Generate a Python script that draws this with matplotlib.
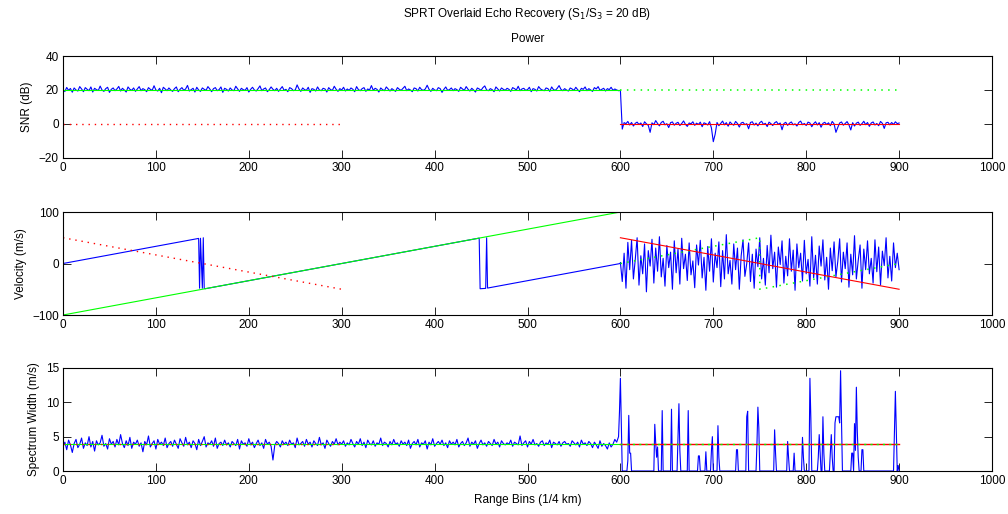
import matplotlib
matplotlib.use("Agg")
import matplotlib.pyplot as plt
import numpy as np

# ---------------- data ----------------
# Panel 1: SNR (dB)
s1_bins = [0, 600]
s1_snr = [20, 20]
s1_ghost_bins = [600, 900]
s1_ghost_snr = [20, 20]
s3_ghost_bins = [0, 300]
s3_ghost_snr = [0, 0]
s3_bins = [600, 900]
s3_snr = [0, 0]

snr_est_a = [  # bins 0..598 step 2
    20.3, 19.1, 21.5, 19.8, 20.9, 18.7, 21.2, 20.0, 19.4, 22.0, 20.6, 19.0, 21.4, 20.4, 19.6, 21.8, 18.8, 21.0, 20.2, 19.7, 22.3, 20.0, 19.2, 20.8, 21.6, 18.6, 20.4, 21.2, 19.6, 20.6,
    22.1, 19.4, 21.0, 20.0, 18.8, 21.8, 20.4, 19.8, 21.2, 19.2, 20.6, 22.0, 19.6, 20.8, 20.2, 19.0, 21.4, 20.4, 19.8, 22.5, 20.0, 19.4, 21.0, 18.4, 21.6, 20.6, 19.6, 21.2, 20.0, 19.2,
    20.8, 21.8, 19.0, 20.4, 21.4, 19.8, 20.6, 22.7, 19.4, 20.2, 21.0, 18.8, 21.6, 20.0, 19.2, 21.2, 20.4, 19.8, 22.0, 20.6, 19.0, 20.8, 21.4, 19.6, 20.2, 21.8, 18.6, 21.0, 20.4, 19.4,
    21.2, 20.0, 19.6, 22.2, 20.6, 19.2, 21.0, 20.2, 19.8, 21.4, 18.8, 20.4, 21.6, 20.0, 19.4, 20.8, 22.4, 19.6, 20.6, 21.2, 19.0, 20.2, 21.8, 20.4, 19.6, 21.0, 19.2, 20.6, 22.0, 19.8,
    20.4, 19.0, 21.4, 20.8, 19.6, 20.0, 23.0, 20.6, 19.2, 21.2, 20.2, 19.8, 21.6, 18.6, 20.8, 20.4, 19.4, 21.8, 20.0, 19.6, 21.0, 20.6, 18.8, 21.4, 20.2, 19.8, 22.2, 20.4, 19.2, 20.8,
    20.0, 21.6, 19.4, 20.6, 19.8, 21.2, 20.4, 19.0, 22.0, 20.2, 19.6, 20.8, 21.4, 19.2, 20.6, 20.0, 22.6, 19.8, 21.0, 20.4, 18.8, 21.2, 20.2, 19.6, 21.8, 20.6, 19.4, 20.8, 20.0, 19.2,
    21.4, 20.4, 19.8, 21.0, 22.2, 19.6, 20.6, 20.0, 19.0, 21.2, 20.8, 19.4, 21.6, 20.2, 19.8, 20.6, 22.8, 20.4, 19.2, 21.0, 20.0, 19.6, 21.4, 20.8, 18.6, 20.4, 21.8, 19.8, 20.2, 21.2,
    19.6, 20.8, 20.2, 19.2, 21.6, 20.6, 19.8, 22.0, 20.4, 19.4, 21.0, 20.0, 18.8, 21.2, 20.6, 19.8, 21.4, 22.4, 20.0, 19.6, 20.8, 20.2, 19.0, 21.8, 20.6, 19.4, 21.2, 20.4, 19.8, 21.0,
    20.4, 19.2, 21.4, 20.8, 20.0, 22.2, 19.6, 20.6, 21.0, 19.8, 20.2, 21.6, 19.0, 20.8, 20.4, 19.4, 22.0, 20.6, 20.0, 19.6, 21.2, 20.8, 19.2, 21.8, 20.2, 19.8, 21.0, 22.6, 20.4, 19.6,
    20.8, 20.0, 19.4, 21.2, 20.6, 19.8, 21.6, 20.2, 19.0, 21.0, 20.4, 21.8, 19.6, 20.8, 20.0, 19.2, 21.4, 20.6, 22.0, 19.8, 20.4, 21.0, 19.4, 20.8, 20.2, 21.6, 19.8, 20.6, 20.0, 19.6,
]
snr_est_b = [  # bins 600..900 step 2
    19.8,
    -3.0, 0.8, 0.2, 1.5, -0.6, 0.9, -1.2, 0.4, 1.1, -0.3, 0.6, -1.5, 1.3, 0.1, -0.8,
    -4.9, 0.7, -0.4, 2.0, 0.3, -1.1, 0.9, 1.6, -0.5, 0.2, -2.1, 0.8, 1.2, -0.7, 0.4,
    1.0, -0.9, 0.3, 1.8, -0.2, -1.4, 0.6, 0.1, 1.3, -0.8, 0.5, -0.3, 1.1, -1.6, 0.7,
    0.2, -0.6, 1.4, -2.4, -10.4, -6.0, 0.9, -1.0, 0.4, 1.7, -0.5, 0.8, -1.3, 1.2, 0.0,
    -0.7, 1.5, 0.3, -1.8, 0.6, 1.0, -0.4, 0.2, -2.8, 0.9, 1.3, -0.6, 0.5, -1.1, 0.8,
    1.6, -0.3, 0.4, -1.5, 1.1, 0.2, -0.9, 0.7, 1.4, -0.2, 0.6, -3.4, 0.3, 1.0, -0.8,
    0.5, 1.2, -0.5, 0.1, -1.2, 0.9, 1.7, -0.4, 0.3, -0.9, 1.1, 0.6, -1.6, 0.2, 1.3,
    -0.6, 0.8, -1.9, 0.4, 1.0, -0.3, 0.7, -1.0, 1.5, 0.1, -4.9, -2.0, 0.6, 1.2, -0.7,
    0.3, 1.4, -0.5, -3.5, 0.8, -1.2, 0.5, 1.1, -0.8, 0.2, 1.6, -0.4, 0.9, -1.4, 0.6,
    1.2, -0.6, 0.3, -1.0, 1.5, 0.4, -2.6, 0.7, 1.0, -0.5, 0.9, -0.3, 1.3, 0.2, 0.6,
]

# Panel 2: velocity (m/s)
v1_bins = [0, 600]
v1_vel = [-100, 100]
v1_ghost_bins = [600, 750, 750, 900]
v1_ghost_vel = [0, 50, -50, 0]
v3_ghost_bins = [0, 300]
v3_ghost_vel = [50, -50]
v3_bins = [600, 900]
v3_vel = [50, -50]

vel_est_a_bins = [0, 146, 147, 148, 149, 150, 151, 152, 153, 448, 449, 455, 456, 457, 600]
vel_est_a = [0, 48.7, -48, 49, 0, -48, 50, -48, -49, 49.3, -49, -48.3, 50, -47.7, 0]
vel_est_b = [  # bins 600..900 step 2
    2,
    -35, 20, -48, 41, -12, 45, -30, 8, 50, -42, 15, -20, 38, -55, 25,
    -5, 47, -38, 30, -15, 52, -26, 10, -44, 35, -8, 22, -50, 44, -18,
    28, -40, 49, -10, 18, -33, 40, -22, 5, -47, 36, -3, 45, -28, 12,
    -52, 33, -15, 48, -36, 20, -8, 42, -45, 25, -30, 56, -20, 6, -40,
    38, -12, 30, -50, 15, 46, -25, 0, 40, -35, 18, -48, 28, -6, 50,
    -30, 10, -42, 35, -18, 55, -10, 22, -46, 32, -2, 44, -38, 14, -24,
    48, -15, 26, -52, 38, -8, 20, -34, 45, -20, 8, -44, 52, -28, 16,
    -40, 34, -5, 46, -32, 12, -50, 30, -14, 42, -26, 4, 48, -36, 22,
    -10, 40, -46, 18, -22, 54, -30, 6, 36, -48, 28, -12, 44, -20, 10,
    -38, 46, -16, 32, -42, 24, -4, 50, -28, 14, -34, 40, -8, 20, -12,
]

# Panel 3: spectrum width (m/s)
w1_bins = [0, 600]
w1_sw = [4, 4]
w1_ghost_bins = [600, 900]
w1_ghost_sw = [4, 4]
w3_ghost_bins = [0, 300]
w3_ghost_sw = [4, 4]
w3_bins = [600, 900]
w3_sw = [4, 4]

sw_est_a = [  # bins 0..598 step 2
    3.6, 4.2, 3.1, 4.5, 3.8, 2.7, 4.0, 4.6, 3.4, 3.9, 4.8, 3.3, 4.1, 3.7, 5.0, 3.5, 4.3, 2.9, 4.4, 3.8, 4.1, 5.2, 3.6, 4.0, 3.2, 4.7, 3.9, 4.3, 3.5, 4.6,
    3.8, 5.3, 4.0, 3.4, 4.4, 3.7, 4.9, 3.3, 4.2, 3.9, 4.5, 3.6, 4.1, 2.8, 4.3, 3.8, 5.1, 3.5, 4.0, 4.4, 3.2, 4.6, 3.9, 4.2, 3.7, 4.8, 3.4, 4.0, 4.3, 3.6,
    4.5, 3.9, 3.3, 4.7, 4.1, 3.6, 4.9, 3.8, 4.2, 3.4, 4.4, 4.0, 3.1, 4.6, 3.7, 4.3, 5.0, 3.5, 4.1, 3.9, 4.4, 3.6, 4.8, 3.3, 4.0, 4.2, 3.7, 4.5, 3.8, 4.1,
    3.5, 4.3, 4.0, 3.7, 4.6, 3.2, 4.4, 3.9, 4.1, 3.6, 4.7, 3.8, 4.2, 3.4, 4.0, 4.5, 3.7, 4.1, 3.3, 4.6, 3.9, 4.2, 3.6, 1.6, 3.8, 4.3, 4.0, 3.5, 4.4, 3.9,
    4.2, 3.7, 4.5, 3.9, 4.1, 3.4, 4.8, 3.8, 4.0, 4.3, 3.6, 4.6, 3.9, 4.2, 3.5, 4.4, 4.0, 3.7, 4.9, 3.8, 4.1, 3.3, 4.5, 4.0, 3.6, 4.3, 3.9, 4.7, 3.8, 4.2,
    3.9, 4.4, 3.6, 4.1, 3.8, 4.6, 4.0, 3.5, 4.3, 3.9, 4.7, 3.7, 4.2, 3.4, 4.5, 4.0, 3.8, 4.4, 3.6, 4.1, 3.9, 4.8, 3.7, 4.2, 4.0, 3.5, 4.3, 3.8, 4.6, 3.9,
    4.1, 3.6, 4.4, 3.9, 4.2, 3.7, 4.5, 3.3, 4.0, 4.3, 3.8, 4.6, 3.5, 4.1, 3.9, 4.4, 3.2, 4.2, 3.8, 4.7, 3.6, 4.0, 4.3, 3.9, 4.5, 3.7, 4.1, 3.4, 4.4, 3.9,
    4.2, 3.8, 4.6, 3.5, 4.0, 4.3, 3.7, 4.1, 4.8, 3.6, 4.2, 3.9, 4.4, 3.3, 4.0, 4.5, 3.8, 4.1, 3.6, 4.3, 4.0, 3.7, 4.6, 3.9, 4.2, 3.5, 4.4, 4.0, 3.8, 4.1,
    3.9, 4.5, 3.6, 4.2, 4.0, 3.8, 5.1, 3.7, 4.1, 4.4, 3.5, 4.3, 3.9, 4.6, 3.8, 4.0, 3.6, 4.2, 4.4, 3.7, 4.1, 3.9, 4.5, 3.4, 4.2, 4.0, 3.8, 4.3, 3.6, 4.1,
    4.3, 3.9, 4.0, 3.6, 4.4, 4.1, 3.8, 4.2, 3.5, 4.5, 3.9, 4.1, 3.7, 4.3, 4.0, 3.4, 4.2, 3.8, 3.3, 4.4, 3.6, 4.0, 3.7, 3.2, 4.1, 3.5, 3.9, 4.6, 4.2, 5.0,
]
sw_spike_bins = [599, 600, 601, 608, 609, 610, 611, 637, 638, 639, 640, 645, 655, 662, 663, 664,
                 673, 684, 685, 692, 698, 699, 705, 706, 725, 726, 736, 737, 747, 748, 749,
                 766, 767, 780, 781, 787, 796, 797, 804, 805, 813, 814, 815, 818, 819, 826, 827,
                 828, 831, 832, 833, 834, 835, 836, 837, 838, 849, 850, 852, 853, 854, 855, 856,
                 860, 861, 895, 896, 897, 899]
sw_spike_vals = [8.6, 13.5, 6.4, 1.5, 8.1, 2.6, 2.6, 6.8, 4.1, 2.0, 3.5, 8.8, 9.0, 5.0, 9.8, 3.0,
                 8.8, 2.2, 2.2, 2.8, 3.0, 5.0, 6.6, 2.0, 3.1, 3.1, 7.9, 8.7, 4.0, 9.3, 6.3,
                 6.0, 2.6, 4.3, 2.0, 2.6, 4.9, 2.0, 13.5, 7.7, 2.0, 5.3, 2.6, 7.9, 2.6, 2.6, 5.3,
                 2.0, 7.0, 7.9, 7.9, 7.9, 7.9, 7.0, 14.6, 7.0, 2.6, 2.6, 6.9, 3.0, 12.2, 5.8, 2.0,
                 3.1, 3.1, 5.7, 11.6, 5.7, 0.8]

x_ticks = [0, 100, 200, 300, 400, 500, 600, 700, 800, 900, 1000]

# ---------------- build series ----------------
bins_a = np.arange(len(snr_est_a)) * 2
bins_b = 600 + np.arange(len(snr_est_b)) * 2
vbins_b = 600 + np.arange(len(vel_est_b)) * 2
sw_tail_bins = np.arange(599, 901)
sw_tail = np.zeros(len(sw_tail_bins))
sw_tail[np.array(sw_spike_bins) - 599] = sw_spike_vals
sw_bins_all = np.concatenate([np.arange(len(sw_est_a)) * 2, sw_tail_bins])
sw_all = np.concatenate([sw_est_a, sw_tail])

# ---------------- figure ----------------
plt.rcParams['font.family'] = ['Liberation Sans', 'DejaVu Sans']
plt.rcParams['font.size'] = 8.5

fig = plt.figure(figsize=(10.08, 5.14), dpi=100)
W, H = 1008, 514
left, right = 63, 992
boxes = [(56, 158), (212, 315), (368, 471)]
axes = []
for top, bot in boxes:
    ax = fig.add_axes([left / W, 1 - bot / H, (right - left) / W, (bot - top) / H])
    axes.append(ax)

BLUE, GREEN, RED = '#0000ff', '#00ff00', '#ff0000'
LW = 0.8
DOT = (0, (1, 3.5))

ax1, ax2, ax3 = axes
# Power
ax1.plot(np.concatenate([bins_a, bins_b]), np.concatenate([snr_est_a, snr_est_b]), color=BLUE, lw=LW)
ax1.plot(s1_bins, s1_snr, color=GREEN, lw=LW)
ax1.plot(s1_ghost_bins, s1_ghost_snr, color=GREEN, lw=1.1, linestyle=DOT)
ax1.plot(s3_ghost_bins, s3_ghost_snr, color=RED, lw=1.0, linestyle=DOT)
ax1.plot(s3_bins, s3_snr, color=RED, lw=LW)
ax1.set_ylim(-20, 40)
ax1.set_yticks([-20, 0, 20, 40])
ax1.set_ylabel('SNR (dB)')

# Velocity
ax2.plot(np.concatenate([vel_est_a_bins, vbins_b]), np.concatenate([vel_est_a, vel_est_b]), color=BLUE, lw=LW)
ax2.plot(v1_bins, v1_vel, color=GREEN, lw=LW)
ax2.plot(v1_ghost_bins, v1_ghost_vel, color=GREEN, lw=1.1, linestyle=DOT)
ax2.plot(v3_ghost_bins, v3_ghost_vel, color=RED, lw=1.0, linestyle=DOT)
ax2.plot(v3_bins, v3_vel, color=RED, lw=LW)
ax2.set_ylim(-100, 100)
ax2.set_yticks([-100, 0, 100])
ax2.set_ylabel('Velocity (m/s)')

# Spectrum width
ax3.plot(sw_bins_all, sw_all, color=BLUE, lw=LW)
ax3.plot(w1_bins, w1_sw, color=GREEN, lw=LW)
ax3.plot(w3_ghost_bins, w3_ghost_sw, color=RED, lw=1.0, linestyle=DOT)
ax3.plot(w3_bins, w3_sw, color=RED, lw=1.0)
ax3.plot(w1_ghost_bins, w1_ghost_sw, color=GREEN, lw=1.0, linestyle=(0, (1.5, 3)))
ax3.set_ylim(0, 15)
ax3.set_yticks([0, 5, 10, 15])
ax3.set_ylabel('Spectrum Width (m/s)')
ax3.set_xlabel('Range Bins (1/4 km)', labelpad=5)

for ax in axes:
    ax.set_xlim(0, 1000)
    ax.set_xticks(x_ticks)
    ax.tick_params(direction='in', top=True, right=True, length=6, width=0.6, pad=3, labelsize=8.5)
    for s in ax.spines.values():
        s.set_linewidth(0.8)
        s.set_color('black')

fig.text(527.5 / W, 1 - 14 / H, 'SPRT Overlaid Echo Recovery (S$_1$/S$_3$ = 20 dB)', ha='center', va='center', fontsize=8.5)
fig.text(527.5 / W, 1 - 39 / H, 'Power', ha='center', va='center', fontsize=8.5)

fig.savefig('out.png', dpi=100)
